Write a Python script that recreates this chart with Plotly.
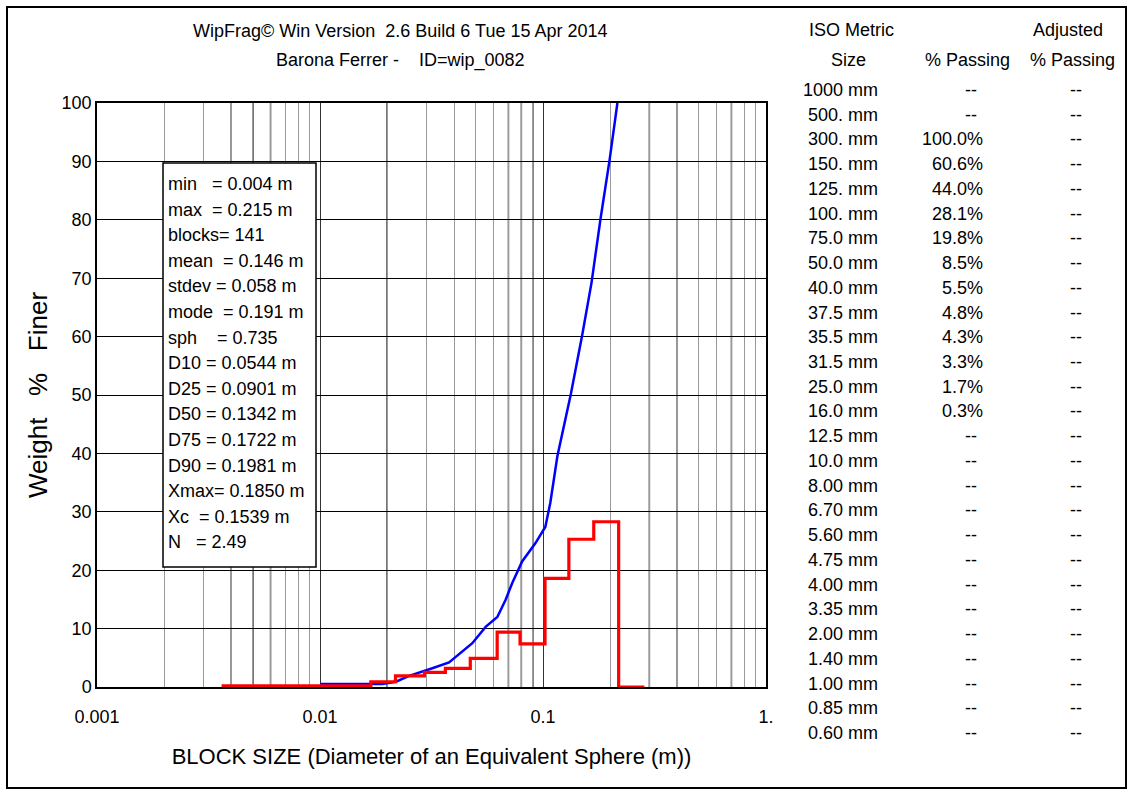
import plotly.graph_objects as go

# ---------------- data ----------------
# cumulative % passing curve (blue)
cum_size_m = [0.0100, 0.0136, 0.0190, 0.0219, 0.0251, 0.0319, 0.0379, 0.0482, 0.0553,
              0.0624, 0.0679, 0.0728, 0.0806, 0.0924, 0.1024, 0.1078, 0.1160, 0.1334,
              0.1500, 0.1650, 0.1810, 0.1990, 0.2156]
cum_passing = [0.5, 0.5, 0.5, 0.9, 1.9, 3.2, 4.2, 7.5, 10.3,
               12.0, 14.9, 17.8, 21.5, 24.6, 27.4, 31.5, 39.5, 50.2,
               60.3, 69.2, 80.1, 90.3, 100.0]

# histogram (red step), bin left edges and weight %
hist_edge_m = [0.00362, 0.0169, 0.0218, 0.0294, 0.0365, 0.0472, 0.0623, 0.0789,
               0.1021, 0.1306, 0.1689, 0.2184, 0.285]
hist_weight = [0.2, 0.9, 1.9, 2.5, 3.2, 4.9, 9.4, 7.4, 18.6, 25.3, 28.3, 0.0, 0.0]

x_tickvals = [0.001, 0.01, 0.1, 1.0]
x_ticktext = ["0.001", "0.01", "0.1", "1."]
y_tickvals = [0, 10, 20, 30, 40, 50, 60, 70, 80, 90, 100]

stats_lines = ["min\u00a0\u00a0\u00a0= 0.004 m", "max\u00a0\u00a0= 0.215 m", "blocks= 141",
               "mean\u00a0\u00a0= 0.146 m", "stdev = 0.058 m", "mode\u00a0\u00a0= 0.191 m",
               "sph\u00a0\u00a0\u00a0\u00a0= 0.735", "D10 = 0.0544 m", "D25 = 0.0901 m",
               "D50 = 0.1342 m", "D75 = 0.1722 m", "D90 = 0.1981 m",
               "Xmax= 0.1850 m", "Xc\u00a0\u00a0= 0.1539 m", "N\u00a0\u00a0\u00a0= 2.49"]

iso_sizes = ["1000 mm", "500. mm", "300. mm", "150. mm", "125. mm", "100. mm", "75.0 mm",
             "50.0 mm", "40.0 mm", "37.5 mm", "35.5 mm", "31.5 mm", "25.0 mm", "16.0 mm",
             "12.5 mm", "10.0 mm", "8.00 mm", "6.70 mm", "5.60 mm", "4.75 mm", "4.00 mm",
             "3.35 mm", "2.00 mm", "1.40 mm", "1.00 mm", "0.85 mm", "0.60 mm"]
pct_passing = ["--", "--", "100.0%", "60.6%", "44.0%", "28.1%", "19.8%", "8.5%", "5.5%",
               "4.8%", "4.3%", "3.3%", "1.7%", "0.3%", "--", "--", "--", "--", "--", "--",
               "--", "--", "--", "--", "--", "--", "--"]
adj_passing = ["--"] * 27

title1 = "WipFrag\u00a9 Win Version\u00a0\u00a02.6 Build 6 Tue 15 Apr 2014"
title2 = "Barona Ferrer -\u00a0\u00a0\u00a0\u00a0ID=wip_0082"

# dark (black-looking) minor gridlines vs lighter ones
dark_minor = [0.004, 0.005, 0.006, 0.02, 0.07, 0.08, 0.09, 0.3, 0.4, 0.7]
all_minor = [m * d for d in (0.001, 0.01, 0.1) for m in range(2, 10)]

# ---------------- layout geometry (pixels) ----------------
W, H = 1129, 790
L, R, T, B = 97, 766, 103, 687
PW, PH = R - L, B - T
FONT = "Liberation Sans, Arial, sans-serif"


def px(x):
    return (x - L) / PW


def py(y):
    return (B - y) / PH


fig = go.Figure()
fig.add_trace(go.Scatter(x=cum_size_m, y=cum_passing, mode="lines",
                         line=dict(color="#0000ff", width=2.5), showlegend=False))
fig.add_trace(go.Scatter(x=hist_edge_m, y=hist_weight, mode="lines",
                         line=dict(color="#ff0000", width=3.2, shape="hv"), showlegend=False))

shapes = []
for v in dark_minor:
    shapes.append(dict(type="line", xref="x", yref="paper", x0=v, x1=v, y0=0, y1=1,
                       line=dict(color="#111111", width=1.4), layer="between"))
# stats box (opaque, covers the grid)
shapes.append(dict(type="rect", xref="paper", yref="paper", x0=px(163), x1=px(316),
                   y0=py(567), y1=py(163), fillcolor="white",
                   line=dict(color="black", width=1.5), layer="above"))
# outer frame
shapes.append(dict(type="rect", xref="paper", yref="paper", x0=px(7), x1=px(1126),
                   y0=py(788), y1=py(7), line=dict(color="black", width=2), layer="below"))

ann = []
ann.append(dict(text=title1, x=px(400), y=py(31), xref="paper", yref="paper",
                showarrow=False, xanchor="center", yanchor="middle",
                font=dict(size=18, color="black", family=FONT)))
ann.append(dict(text=title2, x=px(400), y=py(60), xref="paper", yref="paper",
                showarrow=False, xanchor="center", yanchor="middle",
                font=dict(size=18, color="black", family=FONT)))
for i, s in enumerate(stats_lines):
    ann.append(dict(text=s, x=px(166), y=py(184 + 25.6 * i), xref="paper", yref="paper",
                    showarrow=False, xanchor="left", yanchor="middle",
                    font=dict(size=18, color="black", family=FONT)))
# table headers
hdr = [("ISO Metric", 851, 30), ("Size", 848, 60), ("% Passing", 967, 60),
       ("Adjusted", 1068, 30), ("% Passing", 1072, 60)]
for t, x, y in hdr:
    ann.append(dict(text=t, x=px(x), y=py(y), xref="paper", yref="paper", showarrow=False,
                    xanchor="center", yanchor="middle",
                    font=dict(size=18, color="black", family=FONT)))
for i in range(len(iso_sizes)):
    y = 90 + 24.73 * i
    ann.append(dict(text=iso_sizes[i], x=px(880), y=py(y), xref="paper", yref="paper",
                    showarrow=False, xanchor="right", yanchor="middle",
                    font=dict(size=18, color="black", family=FONT)))
    p = pct_passing[i]
    if p == "--":
        ann.append(dict(text=p, x=px(971), y=py(y), xref="paper", yref="paper",
                        showarrow=False, xanchor="center", yanchor="middle",
                        font=dict(size=18, color="black", family=FONT)))
    else:
        ann.append(dict(text=p, x=px(985), y=py(y), xref="paper", yref="paper",
                        showarrow=False, xanchor="right", yanchor="middle",
                        font=dict(size=18, color="black", family=FONT)))
    ann.append(dict(text=adj_passing[i], x=px(1076), y=py(y), xref="paper", yref="paper",
                    showarrow=False, xanchor="center", yanchor="middle",
                    font=dict(size=18, color="black", family=FONT)))

fig.update_layout(
    width=W, height=H,
    margin=dict(l=L, r=W - R, t=T, b=H - B, pad=0),
    paper_bgcolor="white", plot_bgcolor="white",
    font=dict(family=FONT, size=18, color="black"),
    shapes=shapes, annotations=ann, showlegend=False,
    xaxis=dict(type="log", range=[-3, 0], tickvals=x_tickvals, ticktext=x_ticktext,
               ticks="", ticklabelstandoff=13, showgrid=True, gridcolor="#333333",
               gridwidth=1.3, showline=True, linecolor="black", linewidth=1.5, mirror=True,
               zeroline=False,
               minor=dict(tickvals=all_minor, showgrid=True, gridcolor="#9a9a9a",
                          gridwidth=1.4, ticks=""),
               title=dict(text="BLOCK SIZE (Diameter of an Equivalent Sphere (m))",
                          font=dict(size=22, family=FONT), standoff=22),
               tickfont=dict(size=18, family=FONT), automargin=False),
    yaxis=dict(range=[0, 100], tickvals=y_tickvals, ticks="", ticklabelstandoff=0,
               showgrid=True, gridcolor="black", gridwidth=1.3,
               showline=True, linecolor="black", linewidth=1.5, mirror=True, zeroline=False,
               title=dict(text="Weight\u00a0\u00a0\u00a0%\u00a0\u00a0\u00a0Finer",
                          font=dict(size=26, family=FONT), standoff=7),
               tickfont=dict(size=18, family=FONT), automargin=False),
)

fig.write_html("out.html", config={"displayModeBar": False},
               post_script="document.body.style.margin='0px';")
